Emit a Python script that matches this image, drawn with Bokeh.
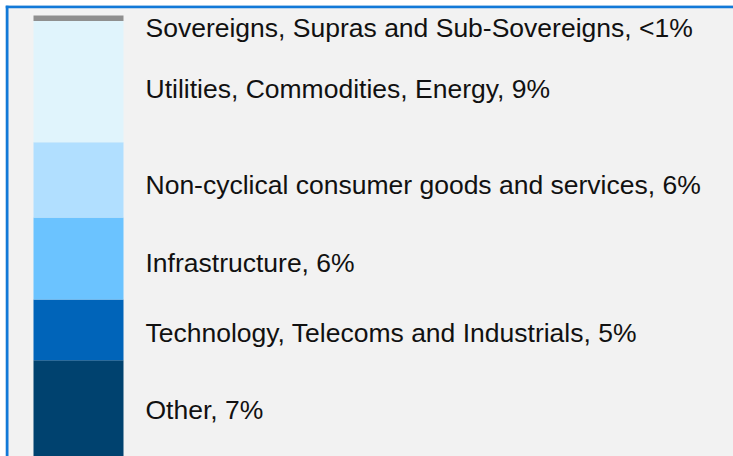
from bokeh.plotting import figure
from bokeh.models import ColumnDataSource, Range1d, Span
from bokeh.core.properties import value
from bokeh.embed import file_html
from bokeh.resources import INLINE
import numpy as np

# ---- data (bottom to top) ----
categories = ["Other", "Technology, Telecoms and Industrials", "Infrastructure",
              "Non-cyclical consumer goods and services", "Utilities, Commodities, Energy",
              "Sovereigns, Supras and Sub-Sovereigns"]
shares = [7.3, 4.6, 6.2, 5.7, 9.2, 0.4]
share_labels = ["7%", "5%", "6%", "6%", "9%", "<1%"]
colors = ["#00426f", "#0064b9", "#6bc3ff", "#b1dfff", "#e0f4fc", "#8f8f8f"]

# ---- layout / style ----
W, H = 733, 456
PAD = 5
FW, FH = W - PAD, H - PAD
PX_PER_UNIT_X = 90.0
PX_PER_PCT = 13.2
bar_center_px = 73
label_offsets_px = [2, 3, 4, 5, 7, 10]   # downward nudges of labels

tops = np.cumsum(shares)
bottoms = tops - np.array(shares)
mids = (tops + bottoms) / 2

src = ColumnDataSource(dict(
    x=[0.5] * len(shares), bottom=bottoms, top=tops, color=colors,
    lx=[1.0 + 22 / PX_PER_UNIT_X] * len(shares), ly=mids,
    text=[f"{c}, {s}" for c, s in zip(categories, share_labels)],
    yoff=label_offsets_px,
))

x0 = 0.5 - bar_center_px / PX_PER_UNIT_X
p = figure(width=W, height=H, output_backend="svg", toolbar_location=None,
           x_range=Range1d(x0, x0 + FW / PX_PER_UNIT_X),
           y_range=Range1d(0, FH / PX_PER_PCT),
           min_border=0, min_border_left=PAD, min_border_right=0,
           min_border_top=PAD, min_border_bottom=0)
p.axis.visible = False
p.grid.visible = False
p.outline_line_color = None
p.background_fill_color = "#f2f2f2"
p.border_fill_color = "white"

p.vbar(x="x", width=1.0, bottom="bottom", top="top", color="color",
       line_color=None, source=src)
p.text(x="lx", y="ly", text="text", y_offset="yoff", source=src,
       text_font=value("Liberation Sans"), text_font_size="26.5px",
       text_baseline="middle", text_align="left", text_color="#111111")

p.add_layout(Span(location=x0 + 1.5 / PX_PER_UNIT_X, dimension="height",
                  line_color="#1279d8", line_width=3))
p.add_layout(Span(location=FH / PX_PER_PCT - 1.2 / PX_PER_PCT, dimension="width",
                  line_color="#1279d8", line_width=3))

open("out.html", "w").write(file_html(p, INLINE))
